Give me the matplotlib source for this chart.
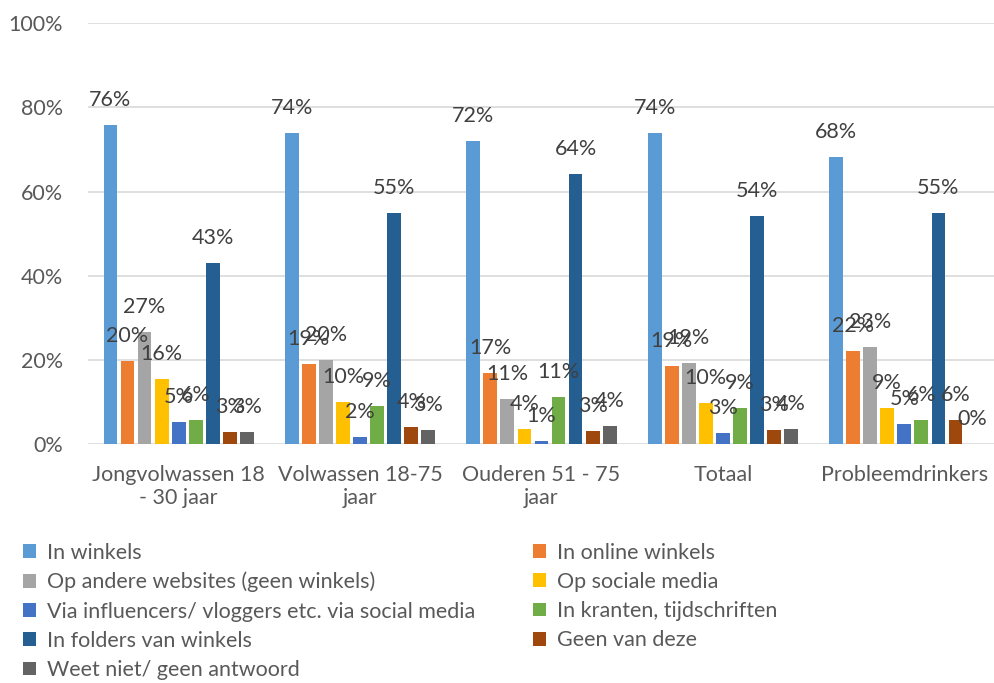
import numpy as np
import matplotlib.pyplot as plt

plt.rcParams['font.family'] = ['Lato', 'DejaVu Sans']

groepen = ['Jongvolwassen 18\n- 30 jaar', 'Volwassen 18-75\njaar', 'Ouderen 51 - 75\njaar',
           'Totaal', 'Probleemdrinkers']

reeksen = ['In winkels', 'In online winkels', 'Op andere websites (geen winkels)',
           'Op sociale media', 'Via influencers/ vloggers etc. via social media',
           'In kranten, tijdschriften', 'In folders van winkels', 'Geen van deze',
           'Weet niet/ geen antwoord']

kleuren = ['#5B9BD5', '#ED7D31', '#A5A5A5', '#FFC000', '#4472C4',
           '#70AD47', '#255E91', '#9E480E', '#636363']

# percentages per reeks, in volgorde van de groepen
in_winkels = [75.8, 73.8, 71.9, 73.8, 68.3]
online_winkels = [19.6, 19.1, 16.9, 18.6, 22.0]
andere_websites = [26.6, 20.0, 10.8, 19.3, 23.0]
sociale_media = [15.5, 10.0, 3.6, 9.7, 8.6]
influencers = [5.2, 1.7, 0.7, 2.6, 4.7]
kranten = [5.6, 9.1, 11.1, 8.6, 5.7]
folders = [43.0, 55.0, 64.1, 54.1, 54.8]
geen_van_deze = [2.9, 4.0, 3.0, 3.3, 5.7]
weet_niet = [2.9, 3.3, 4.3, 3.5, 0.0]

waarden = [in_winkels, online_winkels, andere_websites, sociale_media, influencers,
           kranten, folders, geen_van_deze, weet_niet]

fs = 15.5
fig = plt.figure(figsize=(9.95, 6.83), dpi=100)
ax = fig.add_axes([0.0884, 0.35, 0.9116, 0.616])

x = np.arange(len(groepen))
stap = 0.094
breedte = 0.076
handles = []
for i, (naam, vals, kleur) in enumerate(zip(reeksen, waarden, kleuren)):
    pos = x + (i - 4) * stap
    b = ax.bar(pos, vals, breedte, color=kleur, label=naam, zorder=3)
    handles.append(b)
    for xp, v in zip(pos, vals):
        ax.annotate(f'{v:.0f}%', (xp, v), xytext=(0, 18), textcoords='offset points',
                    ha='center', va='center', fontsize=fs, color='#404040', zorder=4)

ax.set_xlim(-0.5, len(groepen) - 0.5)
ax.set_ylim(0, 100)
ax.set_yticks(range(0, 101, 20))
ax.set_yticklabels([f'{t}%' for t in range(0, 101, 20)])
ax.set_xticks(x)
ax.set_xticklabels(groepen, linespacing=1.2)
ax.grid(axis='y', color='#D9D9D9', linewidth=1.2, zorder=0)
for s in ax.spines.values():
    s.set_visible(False)
ax.tick_params(axis='both', length=0, labelsize=fs, colors='#595959')
ax.tick_params(axis='y', pad=18)
ax.tick_params(axis='x', pad=15)

volgorde = [0, 2, 4, 6, 8, 1, 3, 5, 7]
fig.legend([handles[i] for i in volgorde], [reeksen[i] for i in volgorde],
           ncol=2, loc='upper left', bbox_to_anchor=(0.004, 0.234), frameon=False,
           fontsize=fs, labelcolor='#595959', handlelength=0.6, handleheight=0.6,
           handletextpad=0.5, columnspacing=2.7, labelspacing=0.43)

fig.savefig('out.png', dpi=100)
